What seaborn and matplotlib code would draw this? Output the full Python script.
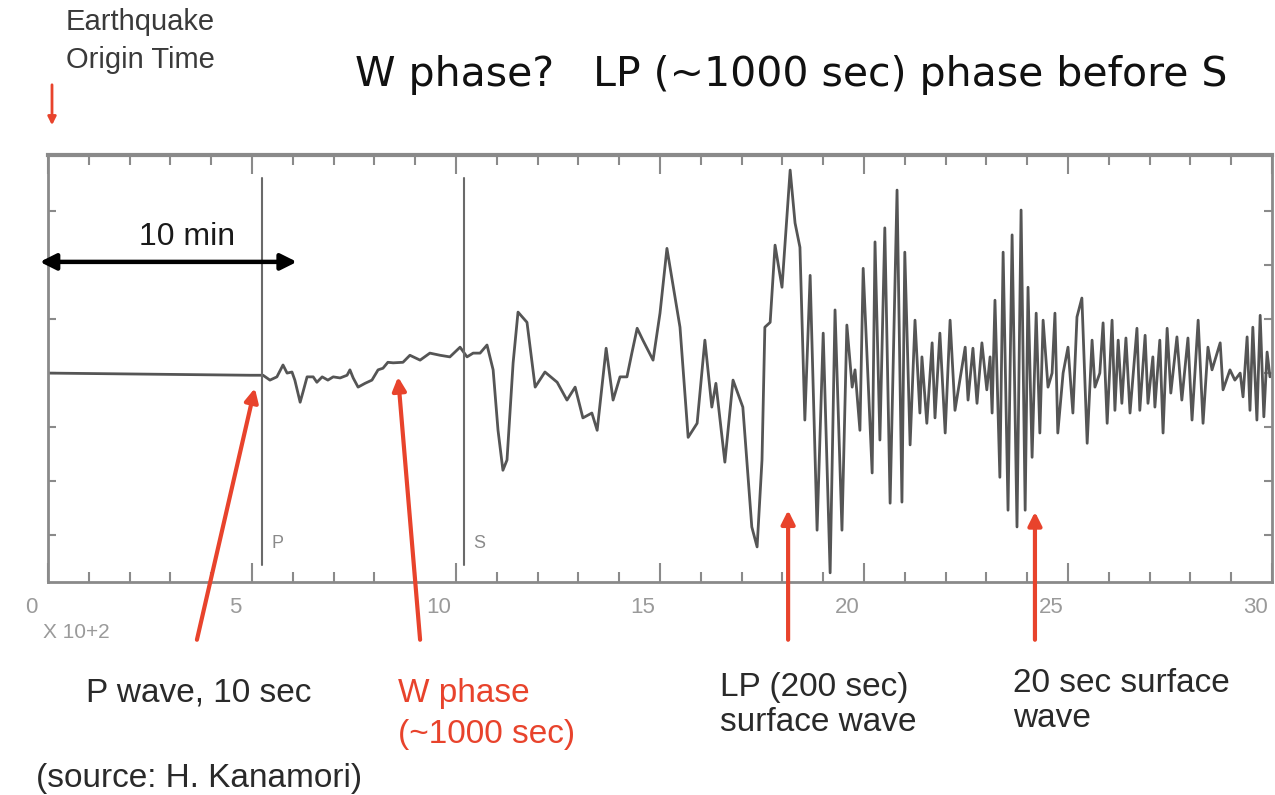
import matplotlib
matplotlib.use("Agg")
import matplotlib.pyplot as plt
import matplotlib.transforms as mtransforms
import numpy as np
import pandas as pd
import seaborn as sns

sns.set_theme(style="white")
plt.rcParams["font.family"] = ["Liberation Sans", "DejaVu Sans"]

# Seismogram trace: time (x 100 s) and ground-motion amplitude (arbitrary units)
time = [0.00, 4.95, 5.27, 5.44, 5.61, 5.76, 5.86, 5.98, 6.05, 6.18, 6.25, 6.35, 6.50, 6.59,
        6.72, 6.86, 6.99, 7.16, 7.33, 7.40, 7.48, 7.60, 7.77, 7.94, 8.09, 8.21, 8.33, 8.46,
        8.70, 8.87, 9.12, 9.36, 9.61, 9.85, 10.10, 10.27, 10.42, 10.59, 10.76, 10.91, 11.03,
        11.15, 11.25, 11.40, 11.52, 11.74, 11.94, 12.18, 12.48, 12.72, 12.92, 13.11, 13.33,
        13.46, 13.68, 13.85, 14.02, 14.19, 14.31, 14.44, 14.58, 14.83, 15.00, 15.17, 15.32,
        15.49, 15.69, 15.91, 16.10, 16.27, 16.37, 16.59, 16.79, 17.03, 17.25, 17.38, 17.50,
        17.57, 17.70, 17.82, 17.99, 18.19, 18.31, 18.43, 18.55, 18.68, 18.85, 19.00, 19.17,
        19.29, 19.46, 19.58, 19.71, 19.78, 19.90, 19.98, 20.20, 20.27, 20.39, 20.51, 20.64,
        20.81, 20.93, 21.00, 21.13, 21.25, 21.37, 21.42, 21.54, 21.67, 21.74, 21.86, 21.99,
        22.11, 22.23, 22.35, 22.48, 22.55, 22.67, 22.77, 22.89, 23.01, 23.09, 23.14, 23.21,
        23.33, 23.41, 23.53, 23.63, 23.75, 23.85, 23.95, 24.02, 24.12, 24.22, 24.31, 24.39,
        24.51, 24.61, 24.68, 24.75, 24.88, 25.00, 25.12, 25.22, 25.34, 25.47, 25.59, 25.66,
        25.78, 25.86, 25.96, 26.08, 26.15, 26.23, 26.32, 26.42, 26.52, 26.69, 26.76, 26.89,
        26.96, 27.08, 27.13, 27.25, 27.33, 27.43, 27.52, 27.67, 27.79, 27.94, 28.04, 28.19,
        28.31, 28.43, 28.53, 28.73, 28.80, 28.97, 29.09, 29.22, 29.29, 29.39, 29.46, 29.53,
        29.63, 29.71, 29.80, 29.88, 29.95]
amplitude = [0.00, -0.04, -0.04, -0.13, -0.07, 0.15, 0.00, 0.02, -0.13, -0.54, -0.35, -0.07,
             -0.07, -0.17, -0.07, -0.13, -0.07, -0.09, -0.04, 0.06, -0.09, -0.26, -0.19, -0.13,
             0.06, 0.09, 0.20, 0.19, 0.20, 0.33, 0.24, 0.37, 0.33, 0.30, 0.48, 0.30, 0.37, 0.37,
             0.52, 0.06, -1.06, -1.80, -1.61, 0.19, 1.13, 0.94, -0.26, 0.02, -0.17, -0.50, -0.26,
             -0.83, -0.74, -1.06, 0.46, -0.50, -0.07, -0.07, 0.37, 0.83, 0.61, 0.24, 1.11, 2.31,
             1.63, 0.85, -1.19, -0.93, 0.61, -0.63, -0.19, -1.65, -0.13, -0.63, -2.85, -3.22,
             -1.61, 0.85, 0.94, 2.37, 1.59, 3.76, 2.78, 2.33, -0.87, 1.81, -2.91, 0.74, -3.70,
             1.17, -2.91, 0.89, -0.26, 0.06, -1.06, 1.94, -1.85, 2.43, -1.24, 2.69, -2.41, 3.39,
             -2.39, 2.24, -1.33, 0.98, -0.74, 0.30, -0.93, 0.56, -0.83, 0.74, -1.11, 0.98, -0.69,
             -0.13, 0.48, -0.50, 0.46, -0.56, 0.56, -0.31, 0.30, -0.74, 1.35, -1.93, 2.24, -2.54,
             2.56, -2.85, 3.02, -2.54, 1.59, -1.56, 1.11, -1.11, 0.98, -0.26, 0.00, 1.11, -1.11,
             0.00, 0.48, -0.74, 1.04, 1.39, -1.30, 0.61, -0.26, 0.00, 0.93, -0.93, 0.98, -0.69,
             0.61, -0.56, 0.65, -0.74, 0.83, -0.69, 0.70, -0.56, 0.30, -0.63, 0.61, -1.11, 0.83,
             -0.37, 0.67, -0.50, 0.65, -0.87, 0.98, -0.93, 0.48, 0.06, 0.56, -0.31, 0.06, -0.13,
             0.00, -0.44, 0.67, -0.69, 0.85, -0.87, 1.07, -0.81, 0.39, -0.07]

# Phase picks (x 100 s)
p_arrival = 5.25
s_arrival = 10.2

x_major = [0, 5, 10, 15, 20, 25, 30]
x_major_labels = ["0", "5", "10", "15", "20", "25", "30"]

# Annotation arrows: (tail time, tip time, tip amplitude)
arrow_specs = [
    (3.65, 5.07, -0.28),
    (9.12, 8.58, -0.07),
    (18.14, 18.14, -2.54),
    (24.19, 24.19, -2.57),
]

W, H = 1275, 795
fig = plt.figure(figsize=(W / 100, H / 100), dpi=100)
fig.patch.set_facecolor("white")
ax = fig.add_axes([48 / W, 1 - 582 / H, 1224 / W, 427 / H])
ax.set_facecolor("white")

df = pd.DataFrame({"time": time, "amplitude": amplitude})
sns.lineplot(data=df, x="time", y="amplitude", sort=False, estimator=None,
             color="#555555", linewidth=2.0, ax=ax)

ax.set_xlim(0, 30)
ax.set_ylim(-3.87, 4.04)
ax.set_xlabel("")
ax.set_ylabel("")

frame_col = "#8a8a8a"
for side, sp in ax.spines.items():
    sp.set_color(frame_col)
    sp.set_linewidth(2.0)
ax.spines["top"].set_linewidth(3.0)

# Tick marks pointing inward on all sides
ax.set_xticks(x_major)
ax.set_xticklabels(x_major_labels)
ax.set_xticks(np.arange(0, 31, 1), minor=True)
ax.set_yticks(np.arange(-3, 4, 1))
ax.set_yticklabels([])
ax.tick_params(axis="x", which="major", direction="in", length=14, width=1.5,
               color=frame_col, top=True, bottom=True, labelsize=16,
               labelcolor="#9a9a9a", pad=11)
ax.tick_params(axis="x", which="minor", direction="in", length=7, width=1.5,
               color=frame_col, top=True, bottom=True)
ax.tick_params(axis="y", which="major", direction="in", length=6, width=1.5,
               color=frame_col, left=True, right=True)
offset = mtransforms.ScaledTranslation(-17 / 100, 0, fig.dpi_scale_trans)
for lab in ax.get_xticklabels():
    lab.set_transform(lab.get_transform() + offset)
    lab.set_fontstretch("condensed")

# P and S markers
for t_pick, name in [(p_arrival, "P"), (s_arrival, "S")]:
    ax.plot([t_pick, t_pick], [-3.56, 3.61], color="#6a6a6a", linewidth=1.5)
    ax.text(t_pick + 0.22, -3.15, name, color="#8a8a8a", fontsize=13,
            ha="left", va="center")

# 10 min scale bar
ax.annotate("", xy=(6.1, 2.06), xytext=(-0.2, 2.06),
            arrowprops=dict(arrowstyle="<|-|>", color="black", lw=3.2,
                            mutation_scale=24, shrinkA=0, shrinkB=0),
            annotation_clip=False)
ax.text(3.4, 2.52, "10 min", fontsize=23, ha="center", va="center", color="#1a1a1a")

# Red arrows pointing to the phases
red = "#e8432c"
for t_tail, t_tip, a_tip in arrow_specs:
    ax.annotate("", xy=(t_tip, a_tip), xytext=(t_tail, -4.94),
                arrowprops=dict(arrowstyle="-|>", color=red, lw=3,
                                mutation_scale=20, shrinkA=0, shrinkB=0),
                annotation_clip=False)


def ftext(px, py, s, **kw):
    fig.text(px / W, 1 - py / H, s, **kw)


dark = "#2a2a2a"
ftext(86, 693, "P wave, 10 sec", fontsize=24, color=dark, va="center")
ftext(398, 714, "W phase\n(~1000 sec)", fontsize=24, color=red, va="center",
      linespacing=1.4)
ftext(720, 705, "LP (200 sec)\nsurface wave", fontsize=24, color=dark, va="center",
      linespacing=1.14)
ftext(1013, 701, "20 sec surface\nwave", fontsize=24, color=dark, va="center",
      linespacing=1.14)
ftext(36, 778, "(source: H. Kanamori)", fontsize=24, color=dark, va="center")
ftext(43, 632, "X 10+2", fontsize=15, color="#9a9a9a", va="center", fontstretch="condensed")

ftext(66, 41, "Earthquake\nOrigin Time", fontsize=21, color="#3a3a3a", va="center",
      linespacing=1.5)
ftext(355, 75, "W phase?   LP (~1000 sec) phase before S", fontsize=29.5, color="#111111",
      va="center", family=["DejaVu Sans"])

# Origin-time arrow
fig.add_artist(matplotlib.patches.FancyArrowPatch(
    (52 / W, 1 - 82 / H), (52 / W, 1 - 128 / H), transform=fig.transFigure,
    arrowstyle="-|>", mutation_scale=12, color=red, lw=2))

fig.savefig("out.png", dpi=100, facecolor="white")
